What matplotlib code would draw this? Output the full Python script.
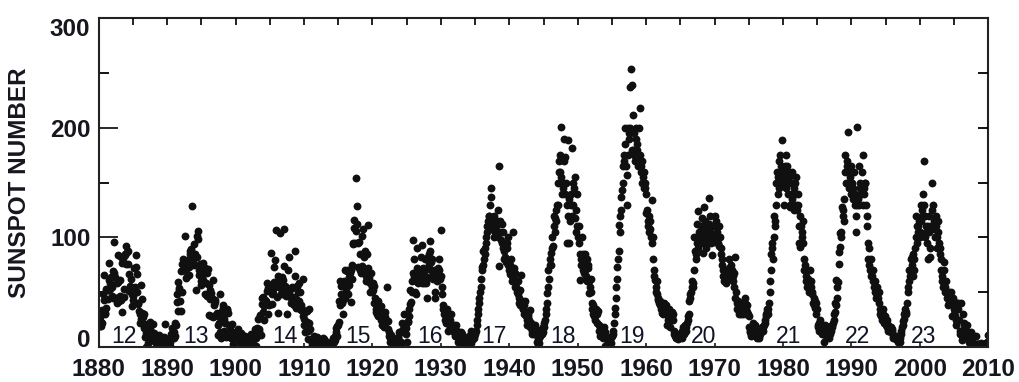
import numpy as np
import matplotlib
matplotlib.use("Agg")
import matplotlib.pyplot as plt
from matplotlib.ticker import MultipleLocator

# monthly sunspot numbers, one row of 12 months per year
ssn_1880s = [
    [24, 27, 19, 19, 23, 34, 22, 48, 66, 43, 31, 30],
    [36, 53, 52, 52, 44, 61, 77, 58, 53, 64, 55, 47],
    [45, 69, 68, 96, 64, 45, 45, 40, 58, 59, 84, 42],
    [61, 47, 43, 82, 32, 77, 81, 46, 53, 84, 85, 76],
    [92, 87, 88, 76, 67, 51, 53, 56, 62, 48, 37, 47],
    [43, 72, 50, 55, 73, 84, 67, 50, 40, 39, 33, 22],
    [30, 26, 57, 44, 31, 27, 30, 17, 21, 9, 0, 13],
    [10, 13, 4, 7, 20, 16, 23, 21, 7, 7, 7, 21],
    [13, 7, 8, 5, 7, 7, 3, 3, 9, 2, 11, 7],
    [1, 9, 7, 4, 2, 6, 9, 21, 7, 2, 0, 7],
]
ssn_1890s = [
    [5, 1, 5, 2, 5, 1, 12, 9, 17, 11, 10, 8],
    [14, 22, 10, 20, 41, 48, 59, 33, 54, 52, 42, 33],
    [69, 76, 50, 70, 80, 76, 77, 101, 63, 71, 65, 79],
    [75, 73, 66, 88, 85, 88, 89, 129, 78, 80, 75, 94],
    [83, 85, 52, 82, 101, 99, 106, 70, 66, 76, 57, 60],
    [63, 67, 61, 77, 68, 72, 48, 69, 58, 68, 47, 71],
    [29, 57, 52, 44, 28, 49, 45, 27, 61, 28, 38, 43],
    [41, 29, 29, 31, 20, 11, 28, 22, 48, 14, 8, 33],
    [30, 36, 38, 15, 26, 22, 9, 31, 35, 34, 31, 13],
    [20, 9, 18, 14, 8, 21, 14, 3, 8, 13, 8, 11],
]
ssn_1900s = [
    [9, 14, 9, 16, 15, 12, 8, 4, 8, 13, 5, 0],
    [0, 2, 5, 0, 10, 6, 1, 1, 1, 4, 4, 0],
    [6, 0, 12, 0, 3, 1, 1, 2, 8, 16, 10, 1],
    [8, 17, 14, 26, 15, 16, 28, 29, 11, 39, 45, 46],
    [32, 25, 37, 43, 40, 42, 51, 58, 30, 54, 38, 55],
    [55, 86, 57, 39, 48, 49, 73, 59, 55, 79, 107, 56],
    [46, 31, 65, 55, 58, 63, 104, 48, 51, 64, 61, 48],
    [74, 108, 54, 56, 47, 54, 30, 52, 70, 82, 49, 46],
    [40, 46, 55, 54, 46, 43, 38, 65, 88, 36, 44, 56],
    [56, 50, 42, 58, 50, 35, 34, 38, 35, 62, 28, 20],
]
ssn_1910s = [
    [26, 32, 14, 22, 33, 23, 7, 15, 22, 35, 16, 6],
    [6, 5, 2, 2, 8, 10, 4, 4, 5, 6, 8, 9],
    [0, 5, 1, 6, 1, 0, 5, 5, 8, 3, 7, 3],
    [2, 0, 0, 2, 5, 0, 1, 3, 2, 0, 2, 1],
    [3, 0, 5, 8, 5, 10, 6, 17, 14, 19, 10, 20],
    [23, 42, 38, 60, 56, 48, 40, 30, 43, 60, 48, 70],
    [45, 53, 58, 69, 70, 48, 57, 64, 68, 70, 41, 62],
    [75, 94, 95, 116, 109, 95, 106, 154, 112, 129, 73, 95],
    [96, 70, 85, 70, 68, 101, 74, 108, 82, 85, 70, 88],
    [60, 65, 85, 72, 111, 63, 60, 50, 58, 68, 50, 55],
]
ssn_1920s = [
    [52, 58, 56, 40, 45, 32, 35, 40, 30, 28, 42, 28],
    [32, 30, 37, 25, 20, 28, 20, 22, 18, 27, 32, 23],
    [25, 55, 16, 24, 14, 10, 8, 5, 11, 5, 8, 2],
    [2, 4, 1, 1, 6, 6, 2, 3, 9, 8, 14, 14],
    [1, 3, 5, 14, 22, 16, 20, 30, 17, 19, 12, 17],
    [5, 24, 23, 28, 35, 39, 52, 41, 50, 60, 68, 98],
    [80, 65, 50, 48, 60, 72, 90, 67, 58, 64, 60, 67],
    [82, 66, 58, 93, 72, 67, 58, 70, 80, 60, 58, 64],
    [45, 82, 85, 76, 88, 97, 78, 70, 80, 62, 66, 65],
    [70, 45, 50, 65, 60, 68, 63, 72, 70, 80, 62, 107],
]
ssn_1930s = [
    [65, 55, 48, 35, 38, 30, 32, 25, 22, 28, 35, 30],
    [15, 30, 25, 18, 25, 20, 30, 20, 15, 17, 20, 18],
    [12, 10, 20, 15, 12, 8, 5, 10, 12, 8, 6, 14],
    [12, 10, 5, 3, 1, 5, 2, 3, 8, 6, 5, 8],
    [4, 10, 9, 5, 4, 15, 8, 7, 12, 8, 10, 14],
    [12, 15, 20, 25, 30, 35, 40, 45, 50, 55, 62, 70],
    [73, 88, 75, 80, 85, 90, 95, 100, 110, 105, 115, 120],
    [120, 130, 110, 145, 137, 112, 108, 115, 100, 120, 105, 110],
    [105, 110, 115, 100, 125, 165, 74, 115, 105, 98, 112, 95],
    [90, 105, 80, 88, 82, 95, 78, 95, 90, 100, 75, 70],
]
ssn_1940s = [
    [67, 75, 80, 70, 60, 65, 105, 72, 66, 68, 55, 60],
    [55, 50, 60, 48, 40, 45, 38, 52, 66, 40, 42, 35],
    [35, 38, 30, 42, 28, 32, 25, 20, 30, 28, 25, 34],
    [18, 22, 20, 15, 12, 18, 14, 12, 20, 15, 12, 16],
    [5, 3, 8, 4, 8, 12, 10, 14, 12, 16, 18, 14],
    [18, 22, 25, 30, 35, 40, 49, 55, 70, 62, 75, 80],
    [86, 75, 90, 100, 92, 110, 120, 118, 105, 125, 115, 130],
    [130, 150, 160, 170, 175, 160, 201, 155, 140, 150, 145, 170],
    [190, 173, 140, 150, 130, 95, 189, 120, 135, 95, 115, 130],
    [140, 182, 120, 150, 130, 145, 118, 155, 105, 125, 140, 110],
]
ssn_1950s = [
    [100, 95, 110, 85, 61, 80, 75, 100, 85, 70, 68, 75],
    [70, 85, 65, 60, 80, 72, 75, 49, 60, 55, 62, 50],
    [40, 35, 30, 38, 28, 32, 25, 35, 30, 22, 30, 33],
    [20, 15, 10, 18, 12, 16, 10, 8, 14, 18, 12, 14],
    [1, 0, 8, 2, 5, 0, 3, 5, 6, 4, 9, 10],
    [10, 15, 12, 22, 30, 36, 45, 55, 62, 73, 80, 88],
    [111, 105, 120, 137, 125, 143, 150, 165, 175, 170, 185, 200],
    [165, 130, 157, 175, 200, 190, 195, 200, 237, 254, 180, 239],
    [212, 180, 195, 175, 170, 190, 200, 185, 180, 170, 165, 200],
    [218, 175, 165, 160, 150, 170, 155, 145, 160, 145, 150, 140],
]
ssn_1960s = [
    [122, 125, 115, 110, 120, 105, 108, 115, 100, 95, 134, 100],
    [80, 70, 65, 61, 55, 50, 60, 48, 43, 45, 40, 42],
    [38, 40, 35, 36, 31, 30, 34, 40, 38, 32, 35, 38],
    [20, 25, 28, 30, 35, 25, 18, 30, 28, 32, 25, 30],
    [15, 12, 10, 8, 9, 12, 10, 8, 7, 10, 12, 9],
    [12, 10, 8, 15, 18, 12, 15, 14, 20, 18, 15, 22],
    [28, 25, 30, 42, 48, 45, 50, 60, 55, 55, 58, 70],
    [100, 88, 85, 80, 112, 95, 90, 124, 100, 105, 98, 110],
    [105, 118, 95, 86, 110, 128, 100, 115, 90, 100, 95, 108],
    [105, 112, 136, 105, 120, 100, 95, 84, 110, 98, 96, 102],
]
ssn_1970s = [
    [100, 120, 115, 110, 105, 100, 95, 110, 92, 100, 90, 85],
    [80, 75, 70, 65, 60, 65, 62, 60, 58, 66, 70, 68],
    [72, 80, 70, 68, 75, 62, 70, 65, 60, 68, 55, 82],
    [45, 50, 40, 35, 38, 42, 36, 30, 40, 35, 30, 38],
    [32, 35, 30, 38, 40, 45, 30, 35, 32, 38, 30, 28],
    [18, 14, 15, 12, 10, 14, 22, 18, 16, 15, 12, 20],
    [10, 8, 12, 15, 10, 8, 10, 12, 15, 14, 16, 18],
    [15, 18, 20, 25, 22, 28, 30, 32, 35, 30, 35, 40],
    [50, 60, 70, 85, 95, 90, 80, 100, 120, 110, 115, 130],
    [150, 160, 140, 155, 145, 170, 160, 175, 165, 189, 150, 160],
]
ssn_1980s = [
    [155, 160, 130, 165, 145, 175, 165, 150, 140, 160, 155, 128],
    [130, 150, 140, 160, 135, 130, 145, 125, 150, 140, 155, 130],
    [125, 140, 130, 110, 95, 91, 120, 110, 100, 105, 115, 95],
    [80, 70, 75, 65, 60, 70, 55, 60, 62, 50, 58, 70],
    [55, 60, 50, 48, 40, 45, 38, 42, 36, 30, 40, 35],
    [20, 18, 15, 22, 25, 18, 15, 20, 12, 15, 18, 17],
    [5, 20, 15, 10, 12, 15, 18, 10, 8, 12, 18, 17],
    [15, 18, 20, 22, 25, 30, 40, 32, 38, 61, 45, 55],
    [59, 87, 76, 91, 104, 100, 105, 128, 120, 125, 115, 135],
    [160, 175, 150, 170, 165, 196, 150, 160, 145, 155, 140, 165],
]
ssn_1990s = [
    [150, 140, 135, 145, 160, 130, 140, 120, 105, 130, 201, 135],
    [130, 165, 145, 150, 140, 140, 160, 175, 130, 145, 140, 150],
    [150, 130, 120, 110, 95, 80, 75, 90, 70, 65, 80, 70],
    [65, 70, 60, 55, 50, 60, 45, 50, 55, 48, 45, 50],
    [40, 35, 30, 32, 28, 25, 30, 35, 28, 22, 25, 28],
    [20, 25, 18, 15, 20, 18, 15, 16, 14, 18, 15, 16],
    [10, 8, 9, 8, 10, 7, 9, 10, 6, 5, 10, 9],
    [5, 8, 12, 15, 18, 20, 24, 26, 30, 35, 32, 30],
    [32, 40, 50, 55, 60, 70, 65, 70, 80, 75, 82, 85],
    [65, 80, 70, 90, 100, 120, 110, 95, 105, 110, 115, 100],
]
ssn_2000s = [
    [105, 115, 130, 125, 120, 140, 170, 130, 120, 100, 110, 105],
    [95, 80, 110, 120, 105, 90, 82, 110, 125, 150, 110, 130],
    [115, 108, 100, 120, 110, 90, 100, 115, 105, 95, 90, 85],
    [80, 70, 65, 60, 55, 78, 70, 50, 55, 60, 50, 45],
    [38, 45, 50, 40, 42, 40, 50, 40, 28, 45, 40, 35],
    [30, 28, 25, 20, 40, 35, 40, 35, 25, 12, 15, 40],
    [15, 6, 10, 30, 22, 20, 12, 13, 15, 10, 20, 14],
    [12, 8, 5, 3, 10, 14, 10, 5, 2, 1, 2, 10],
    [3, 2, 10, 3, 3, 3, 1, 0, 1, 3, 4, 1],
    [1, 1, 1, 1, 3, 3, 3, 0, 4, 5, 4, 11],
]

# solar cycle numbers and where their labels sit (year)
cycle_nums = ["12", "13", "14", "15", "16", "17", "18", "19", "20", "21", "22", "23"]
cycle_pos = [1883.7, 1894.2, 1907.2, 1917.9, 1928.4, 1937.7,
             1947.9, 1958.0, 1968.4, 1980.8, 1990.9, 2000.5]

FIRST_YEAR = 1880
INK = "#16161f"

decades = [ssn_1880s, ssn_1890s, ssn_1900s, ssn_1910s, ssn_1920s, ssn_1930s, ssn_1940s,
           ssn_1950s, ssn_1960s, ssn_1970s, ssn_1980s, ssn_1990s, ssn_2000s]
ssn = np.concatenate([np.asarray(d, dtype=float).ravel() for d in decades])
t = FIRST_YEAR + (np.arange(len(ssn)) + 0.5) / 12.0

plt.rcParams["font.family"] = ["Liberation Sans", "DejaVu Sans"]

fig = plt.figure(figsize=(10.19, 3.82), dpi=100)
ax = fig.add_axes([0.0969, 0.0916, 0.873, 0.8605])
ax.scatter(t, ssn, s=32, c="#101010", linewidths=0, zorder=2)

for lab, xp in zip(cycle_nums, cycle_pos):
    ax.text(xp, 4, lab, ha="center", va="baseline", fontsize=16.5,
            color="#0e1424", zorder=3)

ax.set_xlim(1880, 2010)
ax.set_ylim(0, 300)
for s in ax.spines.values():
    s.set_linewidth(1.5)
    s.set_color("#222")

ax.set_xticks(np.arange(1880, 2011, 10))
ax.set_yticks([0, 100, 200, 300])
ax.yaxis.set_minor_locator(MultipleLocator(50))
ax.tick_params(axis="x", direction="in", length=3, width=1.2, pad=8,
               labelsize=17.5, colors=INK)
ax.tick_params(axis="y", which="major", direction="in", length=13.5, width=1.3,
               pad=6, labelsize=17.5, colors=INK)
ax.tick_params(axis="y", which="minor", direction="in", length=7, width=1.3)
for lbl in ax.get_xticklabels() + ax.get_yticklabels():
    lbl.set_fontweight("bold")
# end labels are kept inside the axis span, as in the original
ylbls = ax.get_yticklabels()
ylbls[0].set_verticalalignment("baseline")
ylbls[-1].set_verticalalignment("top")

# right edge: ticks every 50, no labels
axr = ax.twinx()
axr.set_ylim(0, 300)
axr.set_yticks([50, 100, 150, 200, 250])
axr.tick_params(axis="y", direction="in", length=7, width=1.3, labelright=False)
# top edge: ticks every 5 years, no labels
axt = ax.twiny()
axt.set_xlim(1880, 2010)
axt.set_xticks(np.arange(1885, 2010, 5))
axt.tick_params(axis="x", direction="in", length=5, width=1.2, labeltop=False)
for a in (axr, axt):
    for s in a.spines.values():
        s.set_visible(False)

fig.text(0.0196, 0.522, "SUNSPOT NUMBER", rotation=90, ha="center", va="center",
         fontsize=17.5, fontweight="bold", color=INK)

fig.savefig("out.png", dpi=100)
